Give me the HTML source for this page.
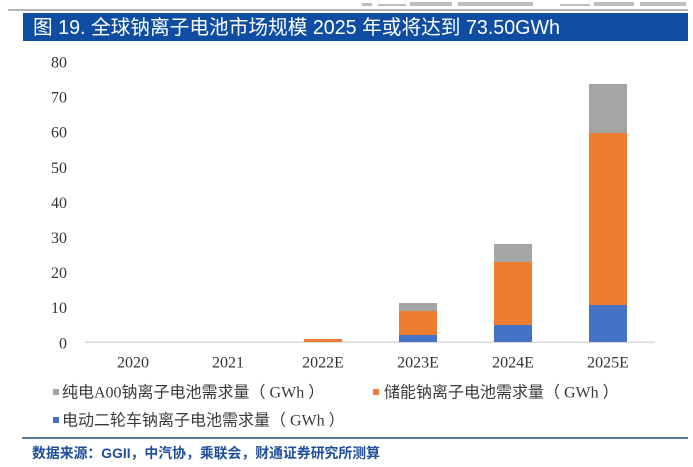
<!DOCTYPE html>
<html>
<head>
<meta charset="utf-8">
<style>
  html,body{margin:0;padding:0;background:#fff;}
  body{width:693px;height:467px;overflow:hidden;}
  svg{display:block;}
</style>
</head>
<body>
<svg width="693" height="467" viewBox="0 0 693 467" xmlns="http://www.w3.org/2000/svg">
  <rect x="0" y="0" width="693" height="467" fill="#ffffff"/>
  <!-- faded cut-off text at top -->
  <g fill="#8a8a8a" opacity="0.55">
    <rect x="362" y="3" width="10" height="3"/>
    <rect x="378" y="4" width="28" height="2"/>
    <rect x="410" y="2" width="42" height="4"/>
    <rect x="458" y="2" width="75" height="4"/>
    <rect x="560" y="4" width="30" height="2"/>
    <rect x="594" y="2" width="40" height="4"/>
    <rect x="640" y="2" width="46" height="4"/>
  </g>
  <!-- gray line above title -->
  <rect x="8" y="9" width="680" height="2" fill="#b5b5b5"/>
  <!-- title bar -->
  <rect x="23" y="13" width="665" height="28" fill="#0E4DA1"/>
  <text x="33" y="34" fill="#ffffff" font-family="'Liberation Sans','Noto Sans CJK SC',sans-serif" font-size="20" textLength="527" lengthAdjust="spacingAndGlyphs">图 19. 全球钠离子电池市场规模 2025 年或将达到 73.50GWh</text>

  <!-- y axis labels -->
  <g font-family="'Liberation Serif','Noto Serif CJK SC',serif" font-size="16" fill="#333" text-anchor="end">
    <text x="67" y="67.5">80</text>
    <text x="67" y="102.6">70</text>
    <text x="67" y="137.7">60</text>
    <text x="67" y="172.8">50</text>
    <text x="67" y="207.9">40</text>
    <text x="67" y="243">30</text>
    <text x="67" y="278.1">20</text>
    <text x="67" y="313.2">10</text>
    <text x="67" y="348.3">0</text>
  </g>

  <!-- axis line -->
  <rect x="85" y="341.5" width="570" height="1.5" fill="#d9d9d9"/>

  <!-- bars -->
  <rect x="304" y="339" width="38" height="3" fill="#ED7D31"/>
  <rect x="399" y="335" width="38" height="7" fill="#4472C4"/>
  <rect x="399" y="311" width="38" height="24" fill="#ED7D31"/>
  <rect x="399" y="303" width="38" height="8" fill="#A5A5A5"/>
  <rect x="494" y="325" width="38" height="17" fill="#4472C4"/>
  <rect x="494" y="262" width="38" height="63" fill="#ED7D31"/>
  <rect x="494" y="244" width="38" height="18" fill="#A5A5A5"/>
  <rect x="589" y="305" width="38" height="37" fill="#4472C4"/>
  <rect x="589" y="133" width="38" height="172" fill="#ED7D31"/>
  <rect x="589" y="84" width="38" height="49" fill="#A5A5A5"/>

  <!-- x labels -->
  <g font-family="'Liberation Serif','Noto Serif CJK SC',serif" font-size="16" fill="#333" text-anchor="middle">
    <text x="133" y="367.5">2020</text>
    <text x="228" y="367.5">2021</text>
    <text x="323" y="367.5">2022E</text>
    <text x="418" y="367.5">2023E</text>
    <text x="513" y="367.5">2024E</text>
    <text x="608" y="367.5">2025E</text>
  </g>

  <!-- legend -->
  <g font-family="'Liberation Serif','Noto Sans CJK SC',sans-serif" font-size="16" fill="#3a3a3a" xml:space="preserve">
    <rect x="53" y="389" width="6" height="6" fill="#A5A5A5"/>
    <text x="62" y="397.5">纯电A00钠离子电池需求量（ GWh ）</text>
    <rect x="373" y="389" width="6" height="6" fill="#ED7D31"/>
    <text x="384" y="397.5">储能钠离子电池需求量（ GWh ）</text>
    <rect x="53" y="417" width="6" height="6" fill="#4472C4"/>
    <text x="62" y="425.5">电动二轮车钠离子电池需求量（ GWh ）</text>
  </g>

  <!-- separator -->
  <rect x="22" y="437" width="666" height="2" fill="#5b7a99"/>

  <!-- source -->
  <text x="32" y="458" fill="#1f4e9a" font-weight="bold" font-family="'Liberation Sans','Noto Sans CJK SC',sans-serif" font-size="14" textLength="348" lengthAdjust="spacingAndGlyphs">数据来源：GGII，中汽协，乘联会，财通证券研究所测算</text>
</svg>
</body>
</html>
